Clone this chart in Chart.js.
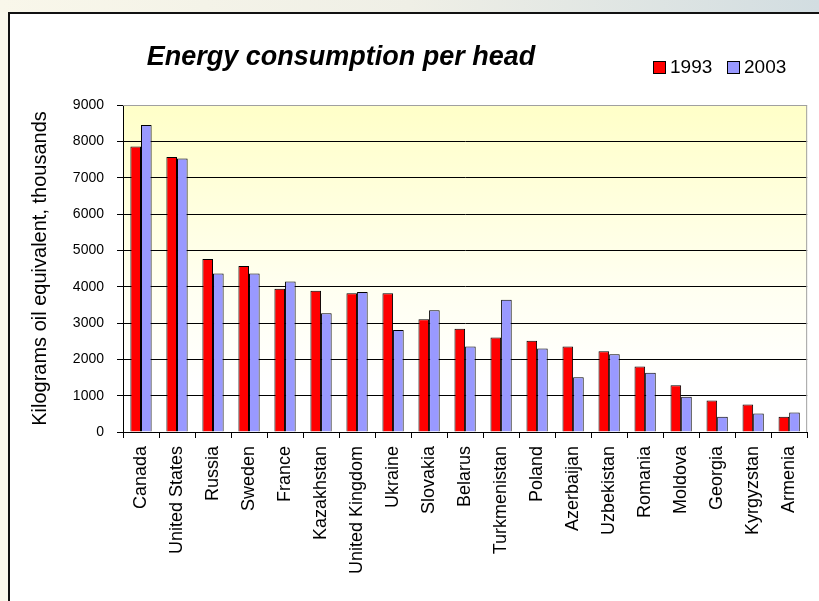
<!DOCTYPE html>
<html><head><meta charset="utf-8">
<script src="https://cdn.jsdelivr.net/npm/chart.js@4.4.1/dist/chart.umd.min.js"></script>
<style>
html,body{margin:0;padding:0;width:819px;height:601px;overflow:hidden;}
body{background:linear-gradient(to right,#f9f7ea 0%,#efefe6 50%,#d2dde1 100%);position:relative;}
#side{position:absolute;left:0;top:12px;width:8px;height:600px;background:#faf8ec;}
#box{position:absolute;left:8px;top:12px;width:830px;height:620px;background:#fff;border:2px solid #111;box-sizing:border-box;}
#wrap{position:absolute;left:0;top:0;width:819px;height:601px;}
</style></head><body>
<div id="side"></div>
<div id="box"></div>
<div id="wrap"><canvas id="c" width="819" height="601"></canvas></div>
<script>
const chartTitle = "Energy consumption per head";
const axisTitle = "Kilograms oil equivalent, thousands";
const countries = ["Canada","United States","Russia","Sweden","France","Kazakhstan","United Kingdom","Ukraine","Slovakia","Belarus","Turkmenistan","Poland","Azerbaijan","Uzbekistan","Romania","Moldova","Georgia","Kyrgyzstan","Armenia"];
const seriesNames = ["1993","2003"];
const values1993 = [7860,7570,4760,4570,3940,3890,3820,3820,3100,2840,2600,2510,2350,2220,1800,1290,870,760,420];
const values2003 = [8450,7530,4360,4360,4140,3270,3850,2810,3350,2350,3640,2300,1510,2140,1630,970,420,510,540];
const yTicks = {min:0, max:9000, step:1000};

const FONT = "'Liberation Sans', Arial, sans-serif";

const plotBg = {
  id:'plotBg',
  beforeDraw(chart){
    const {ctx, chartArea:a} = chart;
    const g = ctx.createLinearGradient(0, a.top, 0, a.bottom);
    g.addColorStop(0, '#ffffc8');
    g.addColorStop(0.55, '#fffff0');
    g.addColorStop(0.85, '#ffffff');
    ctx.save(); ctx.fillStyle = g; ctx.fillRect(a.left, a.top, a.right-a.left, a.bottom-a.top); ctx.restore();
  },
  afterDraw(chart){
    const {ctx, chartArea:a} = chart;
    ctx.save();
    ctx.strokeStyle = '#a0a0a0'; ctx.lineWidth = 1;
    ctx.beginPath();
    ctx.moveTo(a.left, a.top + 0.5); ctx.lineTo(a.right - 0.5, a.top + 0.5); ctx.lineTo(a.right - 0.5, a.bottom);
    ctx.stroke();
    // title
    ctx.fillStyle = '#000';
    ctx.font = "italic bold 27px " + FONT;
    ctx.textAlign = 'center'; ctx.textBaseline = 'middle';
    ctx.fillText(chartTitle, 341, 58);
    // legend
    ctx.font = "19px " + FONT;
    ctx.textAlign = 'left';
    const xs = [653, 727];
    chart.data.datasets.forEach((ds, i) => {
      const x = xs[i];
      ctx.fillStyle = ds.backgroundColor;
      ctx.fillRect(x, 61, 13, 13);
      ctx.strokeStyle = '#000'; ctx.lineWidth = 1;
      ctx.strokeRect(x + 0.5, 61.5, 12, 12);
      ctx.fillStyle = '#000';
      ctx.fillText(ds.label, x + 17, 68);
    });
    ctx.restore();
  }
};

new Chart(document.getElementById('c'), {
  type:'bar',
  data:{
    labels: countries,
    datasets:[
      {label: seriesNames[0], data: values1993, backgroundColor:'#ff0000', borderColor:'#000', borderWidth:1},
      {label: seriesNames[1], data: values2003, backgroundColor:'#9999ff', borderColor:'#000', borderWidth:1}
    ]
  },
  options:{
    responsive:false,
    animation:false,
    layout:{padding:{top:105, right:9, left:0, bottom:0}},
    datasets:{bar:{categoryPercentage:0.59, barPercentage:1.0}},
    plugins:{legend:{display:false}, title:{display:false}, tooltip:{enabled:false}},
    scales:{
      x:{
        afterFit(s){ s.height = 169; },
        grid:{display:true, drawOnChartArea:false, offset:true, tickLength:6, color:'#000'},
        border:{display:true, color:'#000', width:1},
        ticks:{minRotation:90, maxRotation:90, padding:8, color:'#000', font:{family:FONT, size:18}}
      },
      y:{
        min:yTicks.min, max:yTicks.max,
        afterFit(s){ s.width = 123; },
        grid:{color:(c)=> c.tick && c.tick.value === yTicks.max ? '#a0a0a0' : '#000', tickColor:'#000', tickLength:6, lineWidth:1},
        border:{display:true, color:'#000', width:1},
        ticks:{stepSize:yTicks.step, padding:13, color:'#000', font:{family:FONT, size:14}, callback:(v)=>String(v)},
        title:{display:true, text:axisTitle, color:'#000', font:{family:FONT, size:20}, padding:{top:28, bottom:0}}
      }
    }
  },
  plugins:[plotBg]
});
</script>
</body></html>
